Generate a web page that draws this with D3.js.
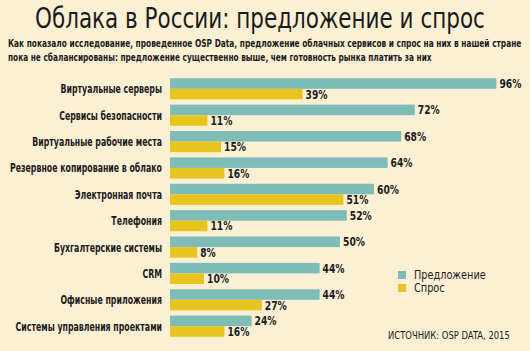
<!DOCTYPE html>
<html>
<head>
<meta charset="utf-8">
<script src="https://cdn.jsdelivr.net/npm/d3@7"></script>
<style>
  body { margin: 0; background: #fbf0d4; }
  svg { display: block; }
  text { font-family: "DejaVu Sans Condensed", "DejaVu Sans", sans-serif; font-stretch: condensed; fill: #1b1b1b; }
</style>
</head>
<body>
<svg id="chart" width="530" height="351"></svg>
<script>
const categories = [
    "Виртуальные серверы",
    "Сервисы безопасности",
    "Виртуальные рабочие места",
    "Резервное копирование в облако",
    "Электронная почта",
    "Телефония",
    "Бухгалтерские системы",
    "CRM",
    "Офисные приложения",
    "Системы управления проектами"
];
const supply = [96, 72, 68, 64, 60, 52, 50, 44, 44, 24];
const demand = [39, 11, 15, 16, 51, 11, 8, 10, 27, 16];

const seriesNames = ["Предложение", "Спрос"];
const colors = ["#7ebcb7", "#e9c41f"];

const svg = d3.select('#chart');

svg.append('rect')
    .attr('width', 530)
    .attr('height', 351)
    .attr('fill', '#fbf0d4');

// squeeze a text to a narrower width, the original font is condensed
function squeeze(sel, factor) {
    sel.each(function () {
        const w = this.getComputedTextLength();
        d3.select(this)
            .attr('textLength', w * factor)
            .attr('lengthAdjust', 'spacingAndGlyphs');
    });
}

// horizontal scale of a left-anchored text so it spans the given width
function fitTo(sel, x, y, width) {
    const w = sel.node().getComputedTextLength();
    sel.attr('x', 0).attr('y', 0)
        .attr('transform', `translate(${x}, ${y}) scale(${width / w}, 1)`);
}

// title + subtitle
svg.append('text')
    .style('font-size', '29px')
    .text("Облака в России: предложение и спрос")
    .call(fitTo, 35, 28, 450);

const subtitle = [
    "Как показало исследование, проведенное OSP Data, предложение облачных сервисов и спрос на них в нашей стране",
    "пока не сбалансированы: предложение существенно выше, чем готовность рынка платить за них"
];
const subWidths = [514, 424];

svg.selectAll('.subtitle')
    .data(subtitle)
    .join('text')
        .classed('subtitle', true)
        .style('font-size', '11px')
        .style('font-weight', 'bold')
        .text(d => d)
        .each(function (d, i) {
            d3.select(this).call(fitTo, 8, 47 + i * 13.5, subWidths[i]);
        });

// scales
const xScale = d3.scaleLinear()
    .domain([0, 100])
    .range([170, 510]);

const yScale = d3.scaleBand()
    .domain(categories)
    .range([73, 342])
    .paddingInner(0.2)
    .paddingOuter(0.2);

const sub = d3.scaleBand()
    .domain([0, 1])
    .range([0, yScale.bandwidth()]);

const rows = categories.map((c, i) => ({ name: c, values: [supply[i], demand[i]] }));

const groups = svg.selectAll('.group')
    .data(rows)
    .join('g')
        .classed('group', true)
        .attr('transform', d => `translate(0, ${yScale(d.name)})`);

groups.selectAll('rect')
    .data(d => d.values)
    .join('rect')
        .attr('x', xScale(0))
        .attr('y', (d, i) => sub(i))
        .attr('width', d => xScale(d) - xScale(0))
        .attr('height', sub.bandwidth())
        .attr('fill', (d, i) => colors[i]);

groups.selectAll('.value')
    .data(d => d.values)
    .join('text')
        .classed('value', true)
        .attr('x', d => xScale(d) + 3)
        .attr('y', (d, i) => sub(i) + sub.bandwidth() / 2 + 4.5)
        .style('font-size', '12px')
        .style('font-weight', 'bold')
        .text(d => `${d}%`)
        .call(squeeze, 0.85);

const catLabels = groups.append('text')
    .classed('catLabel', true)
    .attr('x', 162)
    .attr('y', yScale.bandwidth() / 2 + 4.5)
    .attr('text-anchor', 'end')
    .style('font-size', '12.5px')
    .style('font-weight', 'bold')
    .text(d => d.name);

// the longest label is 152px wide in the original
const longest = d3.max(catLabels.nodes(), n => n.getComputedTextLength());
catLabels.call(squeeze, 152 / longest);

// legend
const legend = svg.selectAll('.legend')
    .data(seriesNames)
    .join('g')
        .classed('legend', true)
        .attr('transform', (d, i) => `translate(398, ${271 + i * 13})`);

legend.append('rect')
    .attr('width', 8)
    .attr('height', 8)
    .attr('fill', (d, i) => colors[i]);

legend.append('text')
    .attr('x', 16)
    .attr('y', 8)
    .style('font-size', '12px')
    .text(d => d)
    .call(squeeze, 0.9);

svg.append('text')
    .style('font-size', '11px')
    .text("ИСТОЧНИК: OSP DATA, 2015")
    .call(fitTo, 388, 339, 122);
</script>
</body>
</html>
